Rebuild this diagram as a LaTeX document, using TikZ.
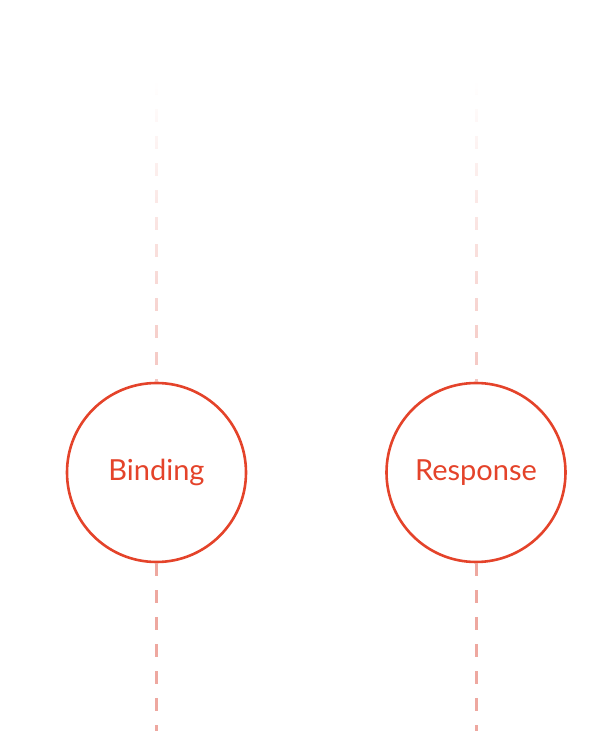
\documentclass[tikz,border=0pt]{standalone}
\usepackage{fontspec}
\setmainfont{Lato}
\usetikzlibrary{fadings}
\definecolor{stagered}{RGB}{228, 67, 42}
\definecolor{linkpink}{RGB}{238, 168, 160}
\tikzfading[name=fade up, top color=transparent!100, bottom color=transparent!35]
\tikzstyle{stage} = [
  circle,
  draw=stagered,
  line width=2.6pt,
  minimum size=179pt,
  inner sep=0pt,
  text=stagered,
  font=\fontsize{29}{34}\selectfont,
]
\tikzstyle{link} = [
  draw=linkpink,
  line width=3pt,
  dash pattern=on 13pt off 14pt,
]
\begin{document}
\begin{tikzpicture}[x=1pt, y=1pt]
            \useasboundingbox (0,0) rectangle (597,731);

            % Stages
            \node[stage] (binding) at (156.5,258.5) {\raisebox{-3pt}{Binding}};
            \node[stage] (response) at (476,258.5) {\raisebox{-3pt}{Response}};

            \coordinate (binding top) at (156.5,649);
            \coordinate (response top) at (476,649);
            \coordinate (binding bottom) at (156.5,0);
            \coordinate (response bottom) at (476,0);

            % Links above, fading out
            \draw[link, path fading=fade up] (binding top) -- (binding.north);
            \draw[link, path fading=fade up] (response top) -- (response.north);

            % Links below
            \draw[link] (binding.south) -- (binding bottom);
            \draw[link] (response.south) -- (response bottom);
          \end{tikzpicture}
\end{document}
